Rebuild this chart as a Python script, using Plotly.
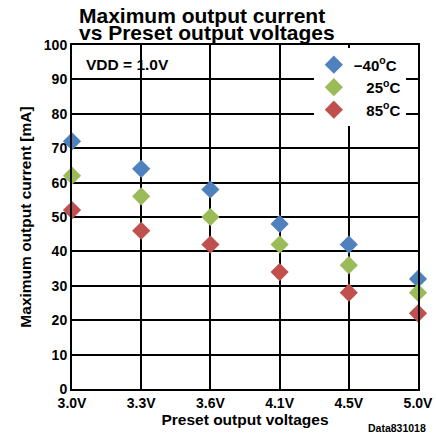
import plotly.graph_objects as go

categories = ["3.0V", "3.3V", "3.6V", "4.1V", "4.5V", "5.0V"]
series_names = ["\u221240<sup>o</sup>C", "\u00a0\u00a0\u00a025<sup>o</sup>C", "\u00a0\u00a0\u00a085<sup>o</sup>C"]
values_m40 = [72, 64, 58, 48, 42, 32]
values_25 = [62, 56, 50, 42, 36, 28]
values_85 = [52, 46, 42, 34, 28, 22]
colors = ["#4F81BD", "#9BBB59", "#C0504D"]
y_ticks = [0, 10, 20, 30, 40, 50, 60, 70, 80, 90, 100]

FONT = "Liberation Sans, Arial, sans-serif"

fig = go.Figure()
for name, vals, col in zip(series_names, [values_m40, values_25, values_85], colors):
    fig.add_trace(go.Scatter(
        x=list(range(len(categories))), y=vals, mode="markers", name=name,
        marker=dict(symbol="diamond", size=14, color=col, line=dict(width=0)),
        cliponaxis=False,
    ))

fig.update_layout(
    width=436, height=439,
    margin=dict(l=72, r=18, t=45, b=50, autoexpand=False),
    paper_bgcolor="white", plot_bgcolor="white",
    font=dict(family=FONT, size=14, color="black", weight="bold"),
    showlegend=True,
    legend=dict(x=0.699, y=0.99, xanchor="left", yanchor="top",
                bgcolor="white", borderwidth=0, itemwidth=30,
                font=dict(family=FONT, size=15, color="black", weight="bold")),
    xaxis=dict(range=[0, len(categories) - 1], tickmode="array",
               tickvals=list(range(len(categories))), ticktext=categories,
               showgrid=True, gridcolor="black", gridwidth=2,
               showline=True, linecolor="black", linewidth=2, mirror=True,
               zeroline=False, ticks="", automargin=False,
               tickfont=dict(family=FONT, size=14, weight="bold"),
               title=dict(text="Preset output voltages", standoff=3,
                          font=dict(family=FONT, size=15.5, weight="bold"))),
    yaxis=dict(range=[0, 100], tickmode="array", tickvals=y_ticks,
               showgrid=True, gridcolor="black", gridwidth=2,
               showline=True, linecolor="black", linewidth=2, mirror=True,
               zeroline=False, ticks="", ticklabelstandoff=0, automargin=False,
               tickfont=dict(family=FONT, size=14, weight="bold"),
               title=dict(text="Maximum output current [mA]", standoff=8,
                          font=dict(family=FONT, size=15.5, weight="bold"))),
    annotations=[
        dict(text="Maximum output current", xref="paper", yref="paper",
             x=(77 - 72) / 346, y=1 + (45 - 15) / 344, xanchor="left", yanchor="middle",
             showarrow=False, font=dict(family=FONT, size=21, weight="bold")),
        dict(text="vs Preset output voltages", xref="paper", yref="paper",
             x=(77 - 72) / 346, y=1 + (45 - 33) / 344, xanchor="left", yanchor="middle",
             showarrow=False, font=dict(family=FONT, size=21, weight="bold")),
        dict(text="VDD = 1.0V", xref="paper", yref="paper",
             x=(84 - 72) / 346, y=(389 - 64) / 344, xanchor="left", yanchor="middle",
             showarrow=False, font=dict(family=FONT, size=15.5, weight="bold")),
        dict(text="Data831018", xref="paper", yref="paper",
             x=1 + (428 - 418) / 346, y=-(428 - 389) / 344, xanchor="right", yanchor="middle",
             showarrow=False, font=dict(family=FONT, size=10.5, weight="bold")),
    ],
)

fig.write_html("out.html")
